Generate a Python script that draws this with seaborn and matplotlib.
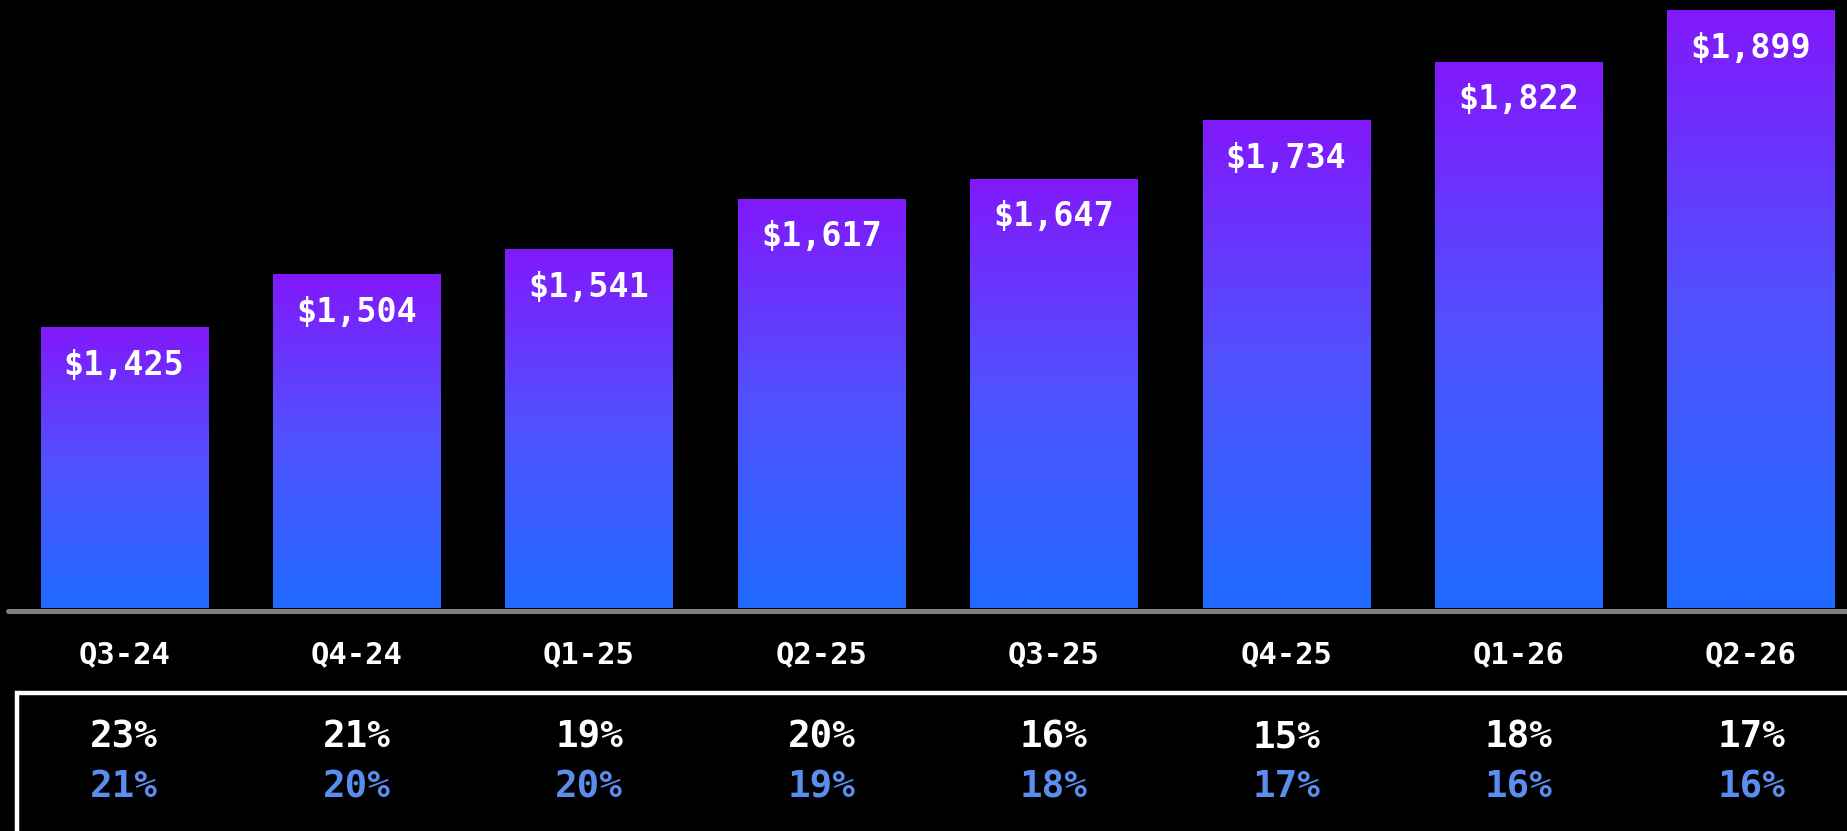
import matplotlib
matplotlib.use("Agg")
import matplotlib.pyplot as plt
import seaborn as sns
import numpy as np
from matplotlib import transforms
from matplotlib.colors import LinearSegmentedColormap
from matplotlib.lines import Line2D
from matplotlib.patches import Rectangle

quarters = ["Q3-24", "Q4-24", "Q1-25", "Q2-25", "Q3-25", "Q4-25", "Q1-26", "Q2-26"]
values = [1425, 1504, 1541, 1617, 1647, 1734, 1822, 1899]
growth_top = [23, 21, 19, 20, 16, 15, 18, 17]
growth_bottom = [21, 20, 20, 19, 18, 17, 16, 16]

sns.set_style("dark", {"axes.facecolor": "black", "figure.facecolor": "black"})
plt.rcParams["font.family"] = ["DejaVu Sans Mono", "DejaVu Sans"]

W, H = 1847, 831
fig = plt.figure(figsize=(W / 100, H / 100), dpi=100)
fig.patch.set_facecolor("black")

# axes: bottom at the gray baseline, top at figure top
ax_bottom = 608
ax = fig.add_axes([8 / W, 1 - ax_bottom / H, 1 - 8 / W, ax_bottom / H])
ax.set_facecolor("black")

sns.barplot(x=quarters, y=values, width=0.72, color="#5050ff", ax=ax)

ymin, ymax = 1005, 1914
ax.set_ylim(ymin, ymax)
ax.set_xlim(-0.5, -0.5 + (W - 8) / 232.4)

# vertical purple -> blue gradient per bar
cmap = LinearSegmentedColormap.from_list("g", ["#1F69FF", "#5052FF", "#8119FB"])
grad = np.linspace(0, 1, 256).reshape(-1, 1)
for p in ax.patches:
    x0 = p.get_x()
    x1 = x0 + p.get_width()
    top = p.get_height()
    im = ax.imshow(grad, cmap=cmap, origin="lower", aspect="auto",
                   extent=[x0, x1, ymin, top], zorder=2)
    im.set_clip_path(p)
    p.set_facecolor("none")
    p.set_edgecolor("none")
ax.set_ylim(ymin, ymax)
ax.set_xlim(-0.5, -0.5 + (W - 8) / 232.4)

for i, v in enumerate(values):
    ax.annotate(f"${v:,}", (i, v), xytext=(0, -27.5), textcoords="offset points",
                ha="center", va="center", color="white", fontsize=24,
                fontweight="bold", zorder=3)

ax.set_xticks([])
ax.set_yticks([])
ax.set_xlabel("")
ax.set_ylabel("")
for s in ax.spines.values():
    s.set_visible(False)

# gray baseline
fig.add_artist(Line2D([8 / W, 1], [1 - 610.5 / H] * 2, color="#808080",
                      lw=3.6, transform=fig.transFigure))

trans = transforms.blended_transform_factory(ax.transData, fig.transFigure)
for i, q in enumerate(quarters):
    ax.text(i, 1 - 655 / H, q, transform=trans, ha="center", va="center",
            color="white", fontsize=22, fontweight="bold", clip_on=False)
    ax.text(i, 1 - 737 / H, f"{growth_top[i]}%", transform=trans, ha="center",
            va="center", color="white", fontsize=27, fontweight="bold", clip_on=False)
    ax.text(i, 1 - 787 / H, f"{growth_bottom[i]}%", transform=trans, ha="center",
            va="center", color="#5A8DEE", fontsize=27, fontweight="bold", clip_on=False)

# white box around the growth rows
box_top = 1 - 693 / H
fig.add_artist(Rectangle((16.5 / W, -0.2), 1.2, box_top + 0.2, fill=False,
                         edgecolor="white", lw=3.2, transform=fig.transFigure))

fig.savefig("out.png", dpi=100, facecolor="black")
